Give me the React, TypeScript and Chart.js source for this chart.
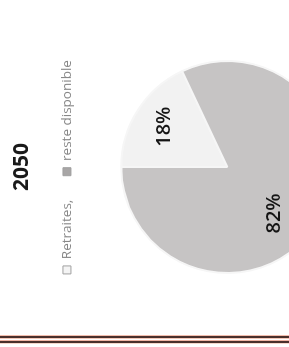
import React, { useEffect, useRef } from "react";
import { Chart, registerables } from "chart.js";

Chart.register(...registerables);

const titleText = "2050";
const categories = ["Retraites,", "reste disponible"];
const shares = [18, 82];
const labelTexts = ["18%", "82%"];

const flatColors = ["#f2f2f2", "#c6c4c4"];
const gradientStops: [number, string][][] = [
  [[0, "#f8f8f8"], [0.85, "#f2f2f2"], [0.96, "#e0e0e0"], [1, "#ededed"]],
  [[0, "#cecccc"], [0.85, "#c7c5c5"], [0.96, "#b4b2b2"], [1, "#d4d2d2"]],
];
const labelPlacement = [
  { frac: 0.71, turn: 0 },
  { frac: 0.62, turn: 12.6 },
];

const UW = 360; // unrotated width
const UH = 371; // unrotated height

const percentLabels = {
  id: "percentLabels",
  afterDatasetsDraw(chart: any) {
    const meta = chart.getDatasetMeta(0);
    const ctx = chart.ctx;
    ctx.save();
    ctx.font = "600 20px 'Open Sans'";
    ctx.fillStyle = "#151515";
    ctx.textAlign = "center";
    ctx.textBaseline = "middle";
    meta.data.forEach((arc: any, i: number) => {
      const p = arc.getProps(["x", "y", "startAngle", "endAngle", "outerRadius"], true);
      const place = labelPlacement[i];
      const mid = (p.startAngle + p.endAngle) / 2 + (place.turn * Math.PI) / 180;
      const r = p.outerRadius * place.frac;
      ctx.fillText(labelTexts[i], p.x + Math.cos(mid) * r, p.y + Math.sin(mid) * r);
    });
    ctx.restore();
  },
};

function sliceFill(i: number) {
  return (c: any) => {
    const chart = c.chart;
    const meta = chart.getDatasetMeta(0);
    const el = meta.data[c.dataIndex];
    if (!el || !el.outerRadius) return flatColors[i];
    const g = chart.ctx.createRadialGradient(el.x, el.y, 0, el.x, el.y, el.outerRadius);
    gradientStops[i].forEach(([o, col]) => g.addColorStop(o, col));
    return g;
  };
}

export default function App() {
  const ref = useRef<HTMLCanvasElement>(null);
  useEffect(() => {
    if (!ref.current) return;
    const chart = new Chart(ref.current, {
      type: "pie",
      data: {
        labels: categories,
        datasets: [
          {
            data: shares,
            backgroundColor: (c: any) => sliceFill(c.dataIndex)(c),
            borderColor: "#f6f6f6",
            borderWidth: 2,
          },
        ],
      },
      options: {
        responsive: false,
        animation: false,
        radius: 106,
        layout: { padding: 0 },
        plugins: {
          tooltip: { enabled: false },
          title: {
            display: true,
            text: titleText,
            color: "#1a1a1a",
            font: { family: "'Open Sans'", weight: "bold", size: 21 },
            padding: { top: 9, bottom: 2 },
          },
          legend: {
            position: "top",
            labels: {
              boxWidth: 8,
              boxHeight: 8,
              padding: 24,
              color: "#888888",
              font: { family: "'Open Sans'", size: 13.5 },
              generateLabels: () =>
                categories.map((t, i) => ({
                  text: t,
                  fillStyle: i === 0 ? "#f4f4f4" : "#a8a6a6",
                  strokeStyle: "#a0a0a0",
                  lineWidth: 1,
                  fontColor: "#888888",
                  index: i,
                  datasetIndex: 0,
                })),
            },
          },
        },
      } as any,
      plugins: [percentLabels],
    });
    return () => chart.destroy();
  }, []);

  const line = (top: number, h: number, color: string) => (
    <div style={{ position: "absolute", left: 0, top, width: 289, height: h, background: color }} />
  );

  return (
    <div
      style={{
        position: "fixed",
        left: 0,
        top: 0,
        width: 289,
        height: 347,
        overflow: "hidden",
        background: "#ffffff",
      }}
    >
      <div
        style={{
          position: "absolute",
          left: 0,
          top: 0,
          width: UW,
          height: UH,
          transformOrigin: "0 0",
          transform: "translateY(347px) rotate(-90deg)",
        }}
      >
        <canvas ref={ref} width={UW} height={UH} style={{ display: "block", width: UW, height: UH }} />
      </div>
      {line(335, 1, "#f2bcac")}
      {line(336, 2, "#4a302c")}
      {line(338, 1, "#f4c8b8")}
      {line(340, 1, "#f0b4a4")}
      {line(341, 2, "#4a302c")}
      {line(343, 1, "#f6d8cc")}
    </div>
  );
}
